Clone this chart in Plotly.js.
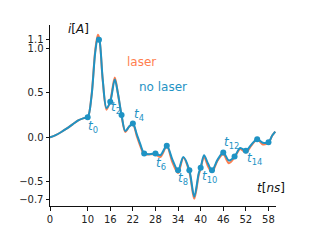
<!DOCTYPE html>
<html><head><meta charset="utf-8">
<script src="https://cdn.plot.ly/plotly-3.0.1.min.js"></script>
<style>html,body{margin:0;padding:0;background:#fff}#chart{width:317px;height:240px}</style>
</head><body><div id="chart"></div>
<script>
// time samples [ns]
const tNoLaser = [0,1.5,3,4.5,6,7.5,9,10,11,12,12.7,13.1,14,15,16,17.2,18,19,20,21,22,23,24,25,26.5,28,29.3,31,32.5,34,35.4,37,38.3,39.5,40,40.9,42,43,44.5,46,47.5,49,50.5,52,53.5,55,56.5,58,59,59.8];
const iNoLaser = [0,0.025,0.06,0.10,0.145,0.19,0.215,0.225,0.45,0.95,1.12,1.095,0.65,0.33,0.40,0.65,0.50,0.25,0.07,0.12,0.155,0.04,-0.08,-0.18,-0.19,-0.18,-0.20,-0.095,-0.25,-0.37,-0.22,-0.37,-0.665,-0.40,-0.34,-0.20,-0.30,-0.37,-0.25,-0.17,-0.26,-0.215,-0.12,-0.15,-0.08,-0.02,-0.06,-0.055,0.02,0.065];
const tLaser = tNoLaser;
const iLaser = [0,0.025,0.06,0.10,0.145,0.19,0.215,0.225,0.46,0.97,1.15,1.11,0.64,0.31,0.41,0.67,0.50,0.24,0.06,0.12,0.15,0.02,-0.10,-0.19,-0.19,-0.19,-0.22,-0.10,-0.28,-0.40,-0.23,-0.39,-0.69,-0.42,-0.35,-0.22,-0.33,-0.39,-0.26,-0.19,-0.29,-0.225,-0.13,-0.17,-0.09,-0.025,-0.08,-0.06,0.02,0.065];
// sample instants t0..t16
const tMarks = [10,13,16,19,22,25,28,31,34,37,40,43,46,49,52,55,58];
const iMarks = [0.225,1.095,0.40,0.25,0.155,-0.18,-0.18,-0.095,-0.37,-0.37,-0.34,-0.37,-0.17,-0.215,-0.15,-0.02,-0.055];
// labelled instants
const labelNames = ['0','2','4','6','8','10','12','14'];
const labelX = [11.5,17.6,23.7,29.5,35.4,42.3,48.1,54.2];
const labelY = [0.12,0.33,0.25,-0.30,-0.47,-0.44,-0.06,-0.24];
const xTicks = [0,10,16,22,28,34,40,46,52,58];
const yTicks = [-0.7,-0.5,0.0,0.5,1.0,1.1];
const yTickText = ['−0.7','−0.5','0.0','0.5','1.0','1.1'];

const blue = '#1f93c4', orange = '#ff7f50';
const font = {family:'DejaVu Sans', size:10, color:'#222'};

const traces = [
  {x:tLaser, y:iLaser, mode:'lines', line:{color:orange, width:2, shape:'spline', smoothing:0.9}, hoverinfo:'skip'},
  {x:tNoLaser, y:iNoLaser, mode:'lines', line:{color:blue, width:2, shape:'spline', smoothing:0.9}, hoverinfo:'skip'},
  {x:tMarks, y:iMarks, mode:'markers', marker:{color:blue, size:6}, hoverinfo:'skip'}
];

const ann = labelNames.map((n,k)=>({x:labelX[k], y:labelY[k], xref:'x', yref:'y', text:'<i>t</i><sub>'+n+'</sub>', showarrow:false, font:{family:'DejaVu Sans', size:12, color:blue}}));
ann.push({x:24.3, y:0.85, xref:'x', yref:'y', text:'laser', showarrow:false, font:{family:'DejaVu Sans', size:12, color:orange}});
ann.push({x:30.1, y:0.56, xref:'x', yref:'y', text:'no laser', showarrow:false, font:{family:'DejaVu Sans', size:12, color:blue}});
ann.push({x:66, y:20, xref:'paper', yref:'paper', text:'<i>i</i>[<i>A</i>]', showarrow:false, font:{family:'DejaVu Sans', size:12, color:'#111'}});
ann.push({x:287, y:197, text:'<i>t</i>[<i>ns</i>]', showarrow:false, font:{family:'DejaVu Sans', size:12, color:'#111'}});
// convert pixel-positioned titles to paper coords
const L=50,R=41,T=25,B=34,W=317,H=240;
const pw=W-L-R, ph=H-T-B;
ann[ann.length-2].x=(66-L)/pw; ann[ann.length-2].y=(H-B-20)/ph;
ann[ann.length-1].xref='paper'; ann[ann.length-1].yref='paper';
ann[ann.length-1].x=(287-L)/pw; ann[ann.length-1].y=(H-B-197)/ph;

const layout = {
  width:W, height:H, margin:{l:L, r:R, t:T, b:B},
  paper_bgcolor:'#fff', plot_bgcolor:'#fff', showlegend:false,
  xaxis:{range:[0,60], showgrid:false, zeroline:false, showline:true, linecolor:'#111', linewidth:1,
    ticks:'outside', ticklen:3.5, tickcolor:'#111', tickvals:xTicks, ticktext:xTicks.map(String), tickfont:font},
  yaxis:{range:[-0.77,1.26], showgrid:false, zeroline:false, showline:true, linecolor:'#111', linewidth:1,
    ticks:'outside', ticklen:3.5, tickcolor:'#111', tickvals:yTicks, ticktext:yTickText, tickfont:font},
  annotations:ann
};
Plotly.newPlot('chart', traces, layout, {staticPlot:true});
</script></body></html>
